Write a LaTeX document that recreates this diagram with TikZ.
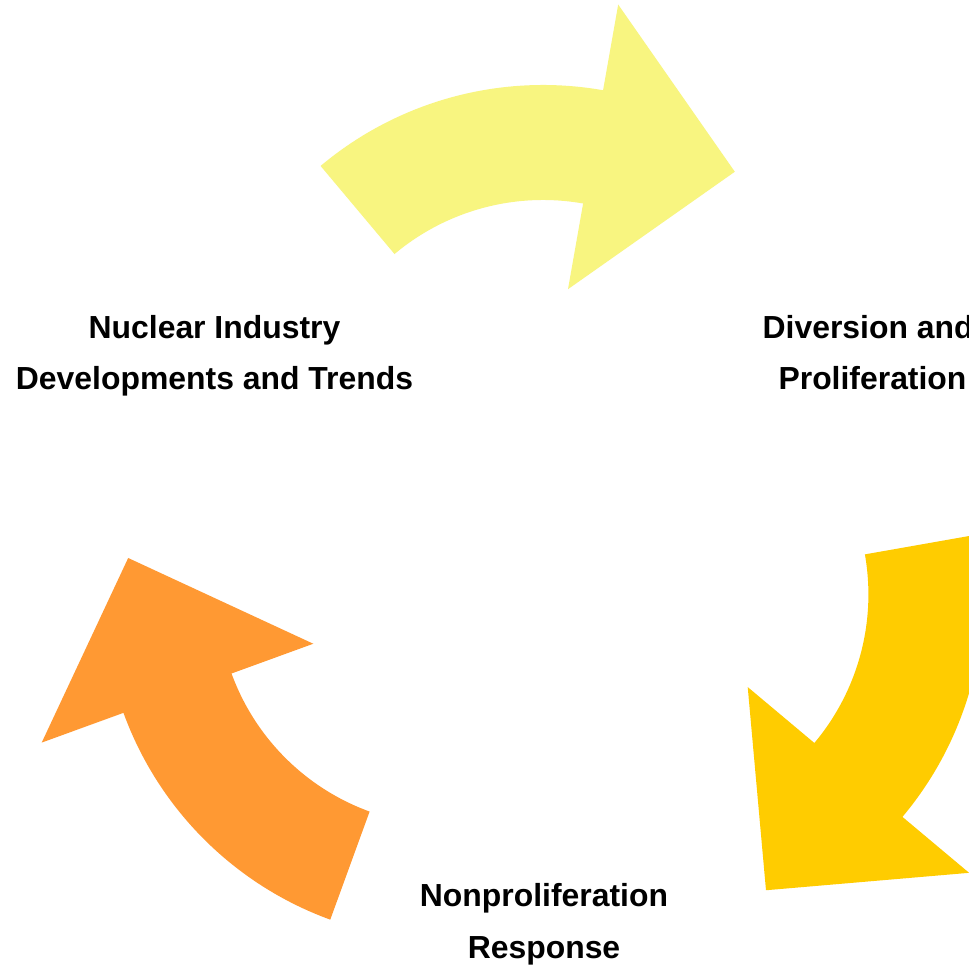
\documentclass[tikz,border=0pt]{standalone}
\usepackage{fontspec}
\setmainfont{Liberation Sans}
\definecolor{arrYellowLight}{HTML}{F8F580}
\definecolor{arrGold}{HTML}{FFCC00}
\definecolor{arrOrange}{HTML}{FF9933}
\newcommand{\cyclearrow}[3]{%
  % #1 centre of the arc, #2 rotation angle, #3 colour
  \begin{scope}[shift={#1}]
    \fill[#3] (#2+40:346pt) arc[start angle=#2+40, end angle=#2-10, radius=346pt]
      -- (#2-10:433pt) -- (#2-36.5:322.5pt) -- (#2-10:144pt) -- (#2-10:231pt)
      arc[start angle=#2-10, end angle=#2+40, radius=231pt] -- cycle;
  \end{scope}}
\begin{document}
\begin{tikzpicture}[x=1pt,y=1pt,
  lbl/.style={font=\fontsize{31.9}{52}\selectfont\bfseries, inner sep=0pt, text=black}]
\useasboundingbox (0,0) rectangle (969,966);
\clip (0,0) rectangle (969,966);
\fill[white] (0,0) rectangle (969,966);
% arrows (centres on a triangle around (543,426))
\cyclearrow{(543pt,535pt)}{90}{arrYellowLight}
\cyclearrow{(637.4pt,371.5pt)}{-30}{arrGold}
\cyclearrow{(448.6pt,371.5pt)}{210}{arrOrange}
% labels
\node[lbl, anchor=base] (nuc1) at (214.5,627.5) {Nuclear Industry};
\node[lbl, anchor=base] (nuc2) at (214.5,576) {Developments and Trends};
\node[lbl, anchor=base west] (div1) at (762.5,627.5) {Diversion and};
\node[lbl, anchor=base] (div2) at (872.5,576) {Proliferation};
\node[lbl, anchor=base] (non1) at (544,59.5) {Nonproliferation};
\node[lbl, anchor=base] (non2) at (544,7.5) {Response};
\end{tikzpicture}
\end{document}
